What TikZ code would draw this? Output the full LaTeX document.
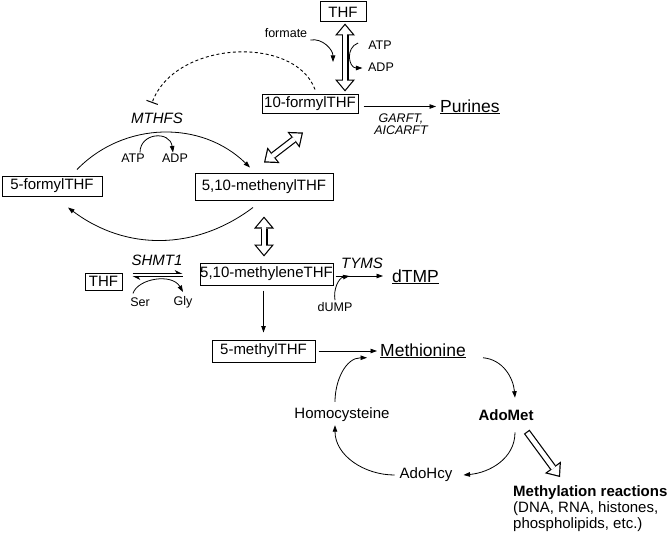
\documentclass[tikz,border=0pt]{standalone}
\usepackage{fontspec}
\setmainfont{Liberation Sans}
\usetikzlibrary{arrows.meta,calc}

\tikzset{
  smltxt/.style={font=\fontsize{12.5}{14}\selectfont},
  midtxt/.style={font=\fontsize{15}{16}\selectfont},
  bigtxt/.style={font=\fontsize{17.5}{20}\selectfont},
  enz/.style={font=\fontsize{15}{15}\selectfont\itshape},
  box/.style={draw,line width=1pt,inner ysep=0pt,inner xsep=0pt,font=\fontsize{15}{16}\selectfont},
  flow/.style={line width=0.8pt,-{Triangle[length=6.5pt,width=4.5pt]}},
  harp/.style={line width=0.8pt,-{Stealth[harpoon,length=7pt,width=7pt]}},
  inhib/.style={line width=0.9pt,dash pattern=on 3pt off 2.5pt,-{Bar[width=12pt,line width=1pt]}},
  hollowboth/.style={white,line width=4.6pt,shorten <=1.87pt,shorten >=1.87pt,
    {Triangle[length=8.9pt,width=14.8pt,line width=0pt]}-{Triangle[length=8.9pt,width=14.8pt,line width=0pt]},
    preaction={draw,black,line width=7pt,shorten <=0pt,shorten >=0pt,
    {Triangle[length=12pt,width=20pt,line width=0pt]}-{Triangle[length=12pt,width=20pt,line width=0pt]}}},
  hollowone/.style={white,line width=4.6pt,shorten <=1.2pt,shorten >=1.87pt,
    -{Triangle[length=8.9pt,width=14.8pt,line width=0pt]},
    preaction={draw,black,line width=7pt,shorten <=0pt,shorten >=0pt,
    -{Triangle[length=12pt,width=20pt,line width=0pt]}}},
}

\begin{document}
\begin{tikzpicture}[x=1pt,y=1pt,every node/.style={inner sep=1pt}]
\useasboundingbox (0,0) rectangle (669,-535);

%folate nodes:
\node (thftop) at (343,-12) [box,minimum width=46,minimum height=20] {THF};
\node (formyl10) at (310,-103.5) [box,minimum width=96,minimum height=19] {10-formylTHF};
\node (formyl5) at (52,-186) [box,minimum width=100,minimum height=20] {5-formylTHF};
\node (methenyl) at (264,-186.5) [box,minimum width=138,minimum height=27] {5,10-methenylTHF};
\node (thfleft) at (103.5,-281.5) [box,minimum width=37,minimum height=17] {THF};
\node (methylene) at (266.5,-274) [box,minimum width=133,minimum height=22] {5,10-methyleneTHF};
\node (methyl5) at (263.5,-351) [box,minimum width=103,minimum height=22] {5-methylTHF};

%products:
\node (purines) at (439,-112) [bigtxt,anchor=base west] {\underline{Purines}};
\node (dtmp) at (391,-282) [bigtxt,anchor=base west] {\underline{dTMP}};
\node (methionine) at (379,-356) [bigtxt,anchor=base west] {\underline{Methionine}};
\node (adomet) at (506,-415) [midtxt,font=\fontsize{15}{16}\selectfont\bfseries] {AdoMet};
\node (adohcy) at (426,-475) [midtxt] {AdoHcy};
\node (homocys) at (342,-415) [midtxt] {Homocysteine};
\node (methylation) at (512,-484.5) [midtxt,anchor=north west,align=left] {\textbf{Methylation reactions}\\(DNA, RNA, histones,\\phospholipids, etc.)};

%cofactors and enzymes:
\node (formate) at (286,-33) [smltxt] {formate};
\node (atpa) at (380,-45) [smltxt] {ATP};
\node (adpa) at (381,-67) [smltxt] {ADP};
\node (garft) at (401,-124) [enz,font=\fontsize{12.5}{12}\selectfont\itshape,align=center] {GARFT,\\AICARFT};
\node (mthfs) at (157,-118) [enz] {MTHFS};
\node (atpb) at (133,-158) [smltxt] {ATP};
\node (adpb) at (175,-158) [smltxt] {ADP};
\node (shmt) at (157,-260) [enz] {SHMT1};
\node (ser) at (140,-302) [smltxt] {Ser};
\node (gly) at (183,-302) [smltxt] {Gly};
\node (tyms) at (362,-263) [enz] {TYMS};
\node (dump) at (335,-307) [smltxt] {dUMP};

\coordinate (fmend) at (333,-62);
\coordinate (dj) at ($(methylene.east)+(16,-2)$);

%top part
\draw [hollowboth] ($(thftop.south)+(2,-1)$) -- ($(thftop.south |- formyl10.north)+(2,2)$);
\draw [flow] ($(formate.east)+(2,-7)$) to[out=10,in=90] (fmend);
\draw [flow] ($(atpa.west)+(-9,2)$) to[out=200,in=180,looseness=1.4] ($(adpa.west)+(-4.5,-1)$);
\draw [inhib] ($(formyl10.north)+(5,4)$) .. controls (295,-35) and (175,-40) .. ($(mthfs.north)+(-5,8.6)$);
\draw [flow,shorten <=5pt,shorten >=3pt] ([yshift=-3pt]formyl10.east) -- ([yshift=-3pt]formyl10.east -| purines.west);

%methenyl loop
\draw [hollowboth] ($(methenyl.north)+(0,10)$) -- ($(formyl10.south)+(-7,-19)$);
\draw [flow] ($(formyl5.north)+(25,6)$) to[bend left=45] ($(methenyl.north)+(-14,5)$);
\draw [flow] ($(atpb.north)+(7,0)$) .. controls +(0,20) and +(-3,22) .. ($(adpb.north)+(-2,0)$);
\draw [flow] ($(methenyl.south)+(-11,-7)$) to[bend left=37] ($(formyl5.south)+(16,-11)$);
\draw [hollowboth] ($(methenyl.south)+(0,-16)$) -- ($(methenyl.south |- methylene.north)+(0,6)$);

%methylene
\draw [harp,shorten <=10pt,shorten >=17pt] ([yshift=8pt]thfleft.east) -- ([yshift=8pt]thfleft.east -| methylene.west);
\draw [harp,shorten <=17pt,shorten >=10pt] ([yshift=5pt]thfleft.east -| methylene.west) -- ([yshift=5pt]thfleft.east);
\draw [flow] ($(ser.north)+(-7,3)$) .. controls +(5,15) and +(-11,19) .. ($(gly.north)+(0,3)$);
\draw [flow,shorten <=2pt,shorten >=8pt] ([yshift=-2pt]methylene.east) -- ([yshift=-2pt]methylene.east -| dtmp.west);
\draw [flow] ($(dump.north)+(0,1)$) to[out=100,in=190] (dj);
\draw [flow,shorten <=5pt,shorten >=7pt] (methylene.south -| methyl5.north) -- (methyl5.north);
\draw [flow,shorten <=3pt,shorten >=2pt] (methyl5.east) -- (methyl5.east -| methionine.west);

%methionine cycle
\draw [flow] ($(methionine.east)+(16,-7)$) to[out=-5,in=95] ($(adomet.north)+(9,10.6)$);
\draw [flow] ($(adomet.south)+(9,-10.6)$) to[out=-90,in=5] ($(adohcy.east)+(10,0)$);
\draw [flow] ($(adohcy.west)+(-4,0)$) to[out=180,in=-90] ($(homocys.south)+(-7,-2)$);
\draw [flow] ($(homocys.north)+(-7,5)$) to[out=90,in=180] ($(methionine.west)+(-12,-7)$);
\draw [hollowone] ($(adomet.south east)+(-8,-10)$) -- ($(methylation.north west)+(48,7.5)$);
\end{tikzpicture}
\end{document}
